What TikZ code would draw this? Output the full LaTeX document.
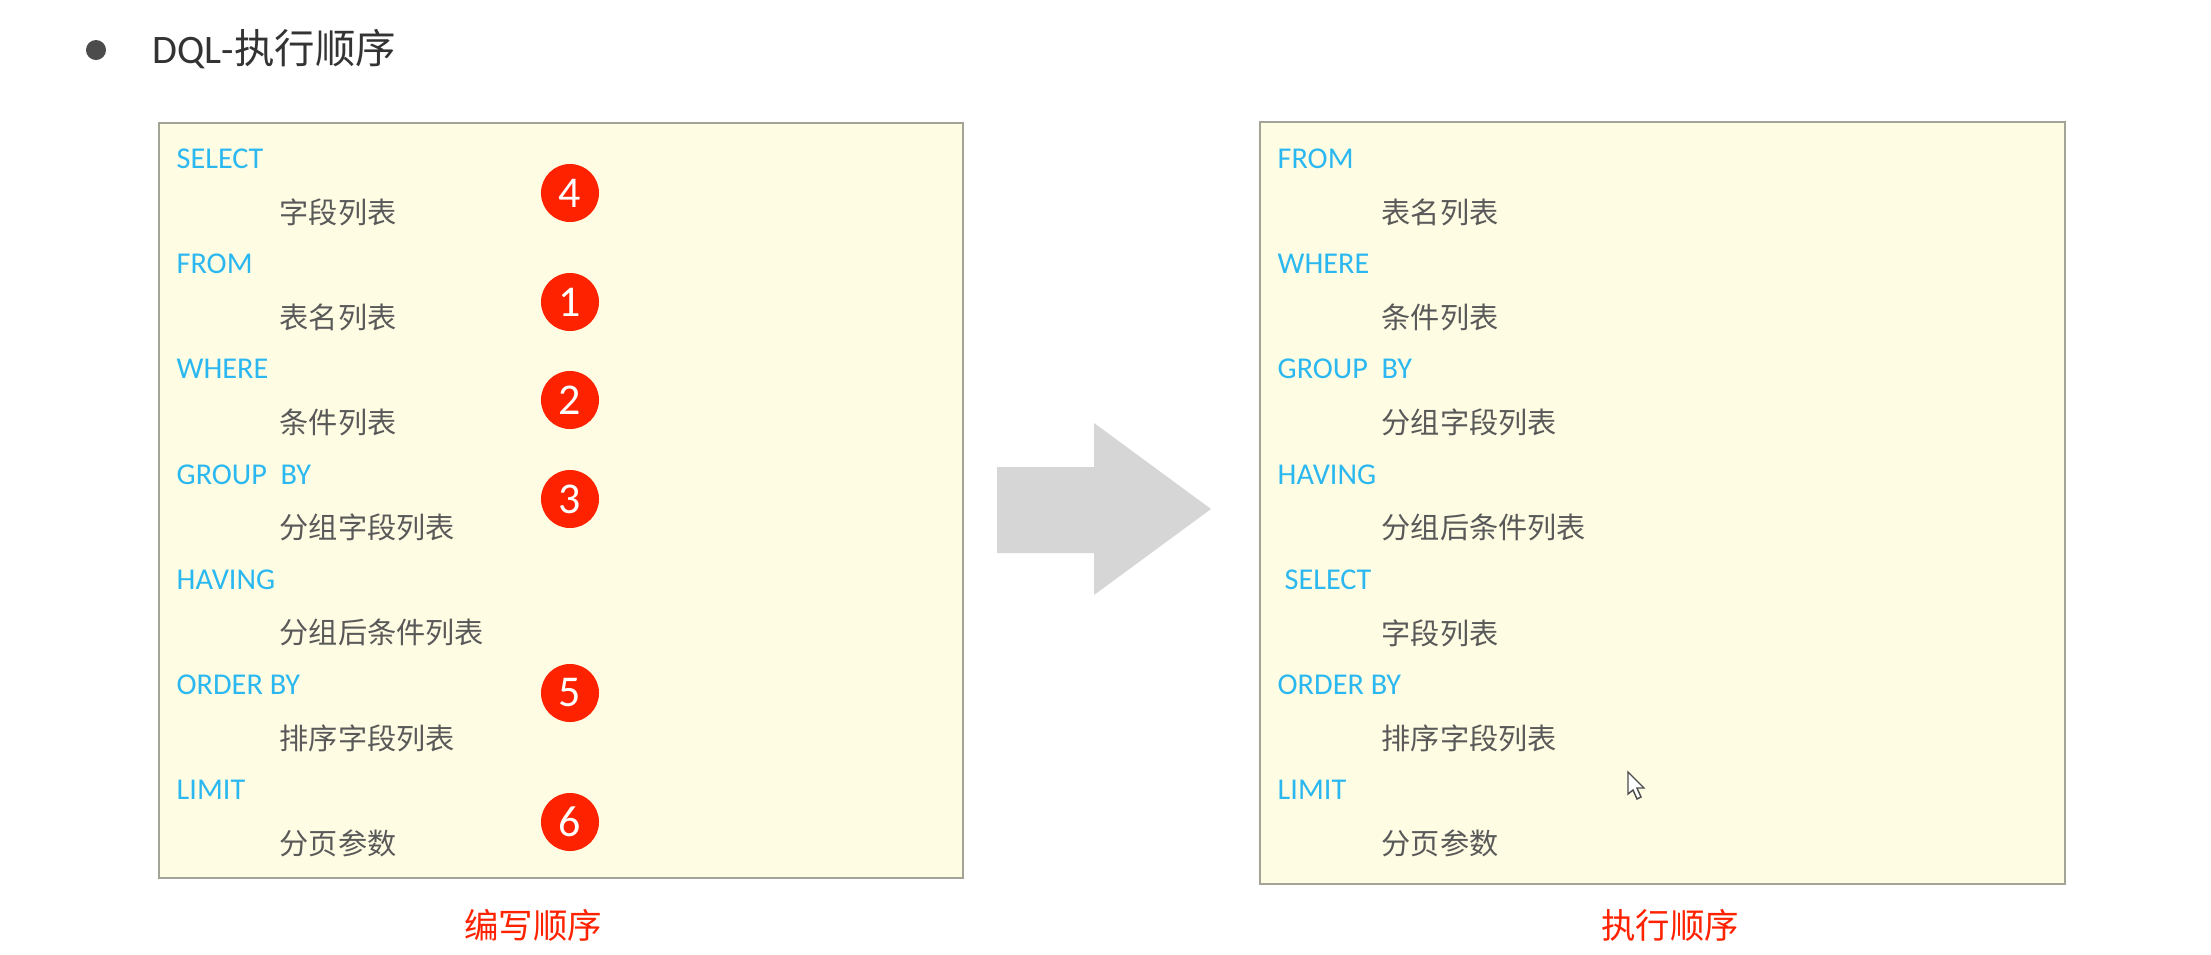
\documentclass[tikz,border=0pt]{standalone}
\usepackage{fontspec}
\usepackage{xcolor}
\usepackage{tikz}
\usetikzlibrary{positioning}
\setmainfont{Carlito}
\newfontfamily\cjk{Noto Sans CJK SC}
\definecolor{paneYellow}{HTML}{FEFCE3}
\definecolor{paneEdge}{HTML}{A3A396}
\definecolor{keyBlue}{HTML}{2BB8F0}
\definecolor{subGray}{HTML}{595959}
\definecolor{markRed}{HTML}{FF2200}

\begin{document}
\begin{tikzpicture}[
    x=0.01cm,y=-0.01cm,
    pane/.style={rectangle,draw=paneEdge,fill=paneYellow,line width=0.5pt},
    keyword/.style={anchor=west,inner sep=0pt,text=keyBlue,font=\fontsize{8.6}{10}\selectfont},
    subitem/.style={anchor=west,inner sep=0pt,text=subGray,font=\fontsize{8.3}{10}\selectfont\cjk},
    badge/.style={circle,fill=markRed,text=white,inner sep=0pt,minimum size=0.58cm,
                  font=\fontsize{12.5}{14}\selectfont},
    caption/.style={inner sep=0pt,text=markRed,font=\fontsize{9.8}{12}\selectfont\cjk}
  ]
  \useasboundingbox (0,0) rectangle (2211,954);
  \fill[white] (0,0) rectangle (2211,954);
  %% Heading
  \node[circle,fill=black!70,inner sep=0pt,minimum size=0.2cm] (dot) at (96,50) {};
  \node[anchor=west,inner sep=0pt,text=black!80,font=\fontsize{11.5}{13}\selectfont] (title) at (152,49)
        {DQL-{\cjk 执行顺序}};
  %% Panes
  \node[pane,minimum width=8.04cm,minimum height=7.55cm] (written) at (561,500.5) {};
  \node[pane,minimum width=8.05cm,minimum height=7.62cm] (executed) at (1662.5,503) {};
  \foreach \k/\s [count=\i from 0] in {SELECT/字段列表, FROM/表名列表, WHERE/条件列表,
      GROUP\ \ BY/分组字段列表, HAVING/分组后条件列表, ORDER BY/排序字段列表, LIMIT/分页参数}
  {
    \node[keyword] (w\i) at (176,159+105.1*\i) {\k};
    \node[subitem] (ws\i) at (279,212.5+105.1*\i) {\s};
  }
  \foreach \x/\k/\s [count=\i from 0] in {1277/FROM/表名列表, 1277/WHERE/条件列表,
      1277/GROUP\ \ BY/分组字段列表, 1277/HAVING/分组后条件列表, 1284/SELECT/字段列表,
      1277/ORDER BY/排序字段列表, 1277/LIMIT/分页参数}
  {
    \node[keyword] (e\i) at (\x,159+105.1*\i) {\k};
    \node[subitem] (es\i) at (1381,212.5+105.1*\i) {\s};
  }
  %% Order marks
  \foreach \n/\y in {4/193, 1/302, 2/400, 3/499, 5/693, 6/822}
    \node[badge] (b\n) at (570,\y) {\n};
  %% Big arrow
  \fill[black!16] (997,467) -- (1094,467) -- (1094,423) -- (1211,509)
        -- (1094,595) -- (1094,553) -- (997,553) -- cycle;
  \node[caption] (cw) at (533,925) {编写顺序};
  \node[caption] (ce) at (1670,925) {执行顺序};
  %% Pointer
  \draw[black!70,fill=white,line width=0.4pt] (1628,772) -- (1628,794) -- (1633,790)
        -- (1637,799) -- (1641,797) -- (1637,788) -- (1644,788) -- cycle;
\end{tikzpicture}
\end{document}
